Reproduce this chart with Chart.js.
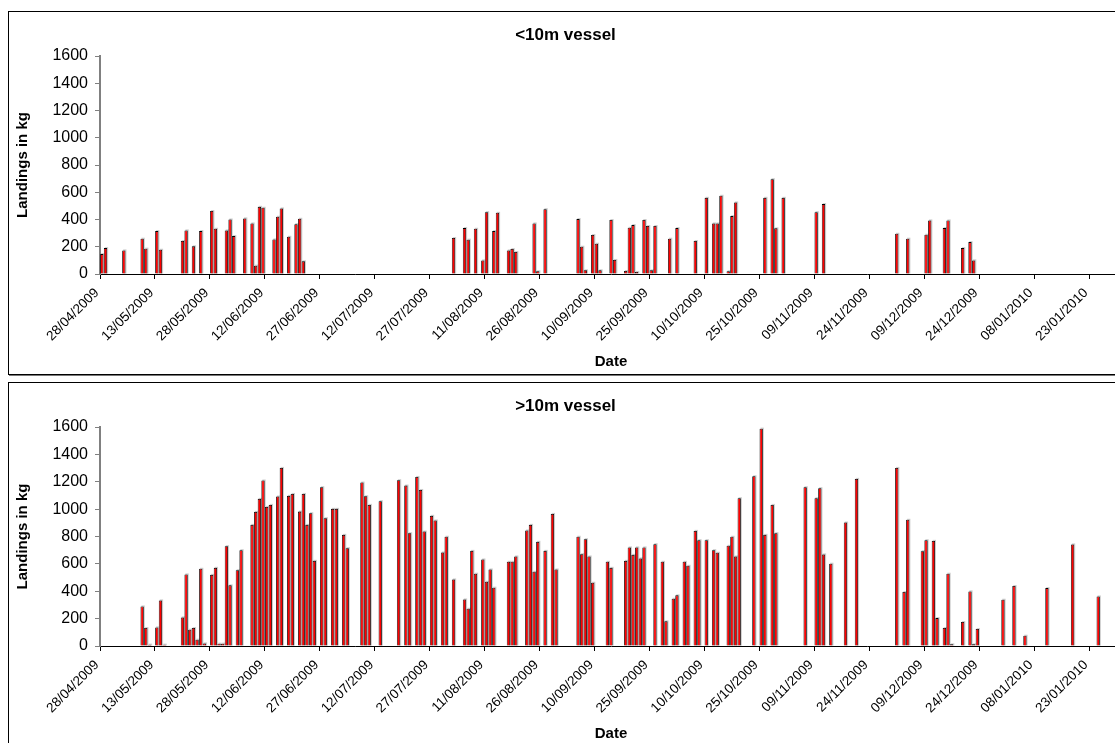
<!DOCTYPE html>
<html><head><meta charset="utf-8">
<script src="https://cdn.jsdelivr.net/npm/chart.js@4/dist/chart.umd.min.js"></script>
<style>
html,body{margin:0;padding:0;background:#fff;width:1115px;height:743px;overflow:hidden;position:relative;}
.panel{position:absolute;left:8px;width:1120px;border:1px solid #000;background:#fff;box-shadow:1px 1px 0 #777;}
#p1{top:11px;height:362px;}
#p2{top:382px;height:364px;}
.panel canvas{position:absolute;left:0;top:0;}
</style></head>
<body>
<div class="panel" id="p1"><canvas id="c1" width="1120" height="362"></canvas></div>
<div class="panel" id="p2"><canvas id="c2" width="1120" height="363"></canvas></div>
<script>
const startDate = '28/04/2009';
const dayCount = 279;
const tickLabels = ['28/04/2009','13/05/2009','28/05/2009','12/06/2009','27/06/2009','12/07/2009','27/07/2009','11/08/2009','26/08/2009','10/09/2009','25/09/2009','10/10/2009','25/10/2009','09/11/2009','24/11/2009','09/12/2009','24/12/2009','08/01/2010','23/01/2010'];
const yTicks = [0,200,400,600,800,1000,1200,1400,1600];

const under10Dates = ['28/04/2009','29/04/2009','04/05/2009','09/05/2009','10/05/2009','13/05/2009','14/05/2009','20/05/2009','21/05/2009','23/05/2009','25/05/2009','28/05/2009','29/05/2009','01/06/2009','02/06/2009','03/06/2009','06/06/2009','08/06/2009','09/06/2009','10/06/2009','11/06/2009','14/06/2009','15/06/2009','16/06/2009','18/06/2009','20/06/2009','21/06/2009','22/06/2009',
'02/08/2009','05/08/2009','06/08/2009','08/08/2009','10/08/2009','11/08/2009','13/08/2009','14/08/2009','17/08/2009','18/08/2009','19/08/2009','24/08/2009','25/08/2009','27/08/2009',
'05/09/2009','06/09/2009','07/09/2009','09/09/2009','10/09/2009','11/09/2009','14/09/2009','15/09/2009','18/09/2009','19/09/2009','20/09/2009','21/09/2009','23/09/2009','24/09/2009','25/09/2009','26/09/2009','30/09/2009',
'02/10/2009','07/10/2009','10/10/2009','12/10/2009','13/10/2009','14/10/2009','16/10/2009','17/10/2009','18/10/2009','26/10/2009','28/10/2009','29/10/2009','31/10/2009',
'09/11/2009','11/11/2009','01/12/2009','04/12/2009','09/12/2009','10/12/2009','14/12/2009','15/12/2009','19/12/2009','21/12/2009','22/12/2009'];
const under10Kg = [146,190,173,259,186,315,178,242,320,203,315,462,332,320,400,278,408,371,61,493,486,254,420,481,273,366,405,93,
264,337,252,332,100,454,315,449,173,183,161,371,20,476,
403,200,27,286,222,27,396,103,22,339,359,15,396,352,27,352,259,
337,242,559,371,371,574,20,425,525,559,696,335,559,
454,513,295,259,288,393,337,393,190,234,100];

const over10Dates = ['09/05/2009','10/05/2009','11/05/2009','13/05/2009','14/05/2009','15/05/2009','20/05/2009','21/05/2009','22/05/2009','23/05/2009','24/05/2009','25/05/2009','26/05/2009','28/05/2009','29/05/2009','30/05/2009','31/05/2009',
'01/06/2009','02/06/2009','04/06/2009','05/06/2009','08/06/2009','09/06/2009','10/06/2009','11/06/2009','12/06/2009','13/06/2009','15/06/2009','16/06/2009','18/06/2009','19/06/2009','21/06/2009','22/06/2009','23/06/2009','24/06/2009','25/06/2009','27/06/2009','28/06/2009','30/06/2009',
'01/07/2009','03/07/2009','04/07/2009','08/07/2009','09/07/2009','10/07/2009','13/07/2009','18/07/2009','20/07/2009','21/07/2009','23/07/2009','24/07/2009','25/07/2009','27/07/2009','28/07/2009','30/07/2009','31/07/2009',
'02/08/2009','05/08/2009','06/08/2009','07/08/2009','08/08/2009','10/08/2009','11/08/2009','12/08/2009','13/08/2009','17/08/2009','18/08/2009','19/08/2009','22/08/2009','23/08/2009','24/08/2009','25/08/2009','27/08/2009','29/08/2009','30/08/2009',
'05/09/2009','06/09/2009','07/09/2009','08/09/2009','09/09/2009','13/09/2009','14/09/2009','18/09/2009','19/09/2009','20/09/2009','21/09/2009','22/09/2009','23/09/2009','26/09/2009','28/09/2009','29/09/2009',
'01/10/2009','02/10/2009','04/10/2009','05/10/2009','07/10/2009','08/10/2009','10/10/2009','12/10/2009','13/10/2009','16/10/2009','17/10/2009','18/10/2009','19/10/2009','23/10/2009','25/10/2009','26/10/2009','28/10/2009','29/10/2009',
'06/11/2009','09/11/2009','10/11/2009','11/11/2009','13/11/2009','17/11/2009','20/11/2009',
'01/12/2009','03/12/2009','04/12/2009','08/12/2009','09/12/2009','11/12/2009','12/12/2009','14/12/2009','15/12/2009','16/12/2009','19/12/2009','21/12/2009','22/12/2009','23/12/2009','30/12/2009',
'02/01/2010','05/01/2010','11/01/2010','18/01/2010','25/01/2010'];
const over10Kg = [289,131,10,136,333,10,209,523,119,131,46,564,19,520,571,17,17,
729,443,554,700,885,980,1075,1209,1016,1031,1092,1301,1097,1111,982,1111,885,970,622,1160,934,1002,
1002,812,715,1194,1094,1031,1058,1211,1172,824,1235,1140,836,951,917,683,798,
486,340,272,695,528,632,469,559,426,615,615,654,844,885,542,761,695,965,559,
798,671,780,654,462,615,571,622,720,666,720,640,720,744,615,180,
345,370,615,586,841,773,773,700,681,732,798,654,1080,1240,1588,812,1031,824,
1160,1080,1153,669,601,902,1221,
1301,394,922,693,773,768,204,131,528,12,175,399,12,124,338,
438,75,423,742,362];

function fmt(d){return String(d.getUTCDate()).padStart(2,'0')+'/'+String(d.getUTCMonth()+1).padStart(2,'0')+'/'+d.getUTCFullYear();}
const [sd,sm,sy] = startDate.split('/').map(Number);
const categories = [];
for (let i=0;i<dayCount;i++) categories.push(fmt(new Date(Date.UTC(sy,sm-1,sd+i))));
function series(dates, vals){const m=new Map(dates.map((d,i)=>[d,vals[i]]));return categories.map(c=>m.has(c)?m.get(c):null);}

Chart.defaults.font.family = "'Liberation Sans', Arial, sans-serif";
Chart.defaults.color = '#000';

const shadowPlugin = {
  id:'barShadow',
  beforeDatasetsDraw(chart){
    const ctx = chart.ctx; ctx.save(); ctx.fillStyle='rgba(140,140,140,0.45)';
    chart.getDatasetMeta(0).data.forEach((el,i)=>{
      const raw = chart.data.datasets[0].data[i];
      if (raw == null) return;
      const p = el.getProps(['x','y','base','width'], true);
      ctx.fillRect(p.x - p.width/2 + 1, p.y - 1, p.width, p.base - p.y + 1);
    });
    ctx.restore();
  }
};

function makeChart(id, title, dates, vals){
  return new Chart(document.getElementById(id), {
    type:'bar',
    data:{labels:categories, datasets:[{data:series(dates, vals), backgroundColor:'#ff0000', borderColor:'#000',
      borderWidth:{left:0.8,right:0.8,top:0.8,bottom:0}, barPercentage:0.9, categoryPercentage:1.0}]},
    options:{
      responsive:false, animation:false,
      layout:{padding:{top:0,left:0,right:7,bottom:0}},
      plugins:{legend:{display:false}, tooltip:{enabled:false},
        title:{display:true, text:title, font:{size:17, weight:'bold'}, color:'#000', padding:{top:13,bottom:10.6}}},
      scales:{
        x:{
          grid:{drawOnChartArea:false, drawTicks:true, tickLength:5, offset:true,
            color:c=>tickLabels.includes(categories[c.index])?'#000':'rgba(0,0,0,0)'},
          border:{display:true,color:'#000',width:1},
          ticks:{autoSkip:false, maxRotation:45, minRotation:45, font:{size:13.5}, color:'#000', padding:6, labelOffset:-5,
            callback:(v,i)=>tickLabels.includes(categories[i])?categories[i]:''},
          title:{display:true, text:'Date', font:{size:15, weight:'bold'}, color:'#000', padding:{top:0,bottom:3}},
          afterFit:s=>{s.height=100; s.paddingLeft=0; s.paddingRight=0;}
        },
        y:{
          min:0, max:1600,
          afterBuildTicks:s=>{s.ticks = yTicks.map(v=>({value:v}));},
          grid:{drawOnChartArea:false, drawTicks:true, tickLength:5, color:'#808080'},
          border:{display:true,color:'#808080',width:2},
          ticks:{font:{size:16}, color:'#000', padding:7, callback:v=>String(v)},
          title:{display:true, text:'Landings in kg', font:{size:15, weight:'bold'}, color:'#000', padding:{top:5,bottom:0}},
          afterFit:s=>{s.width=91;}
        }
      }
    },
    plugins:[shadowPlugin]
  });
}
makeChart('c1','<10m vessel', under10Dates, under10Kg);
makeChart('c2','>10m vessel', over10Dates, over10Kg);
</script>
</body></html>
